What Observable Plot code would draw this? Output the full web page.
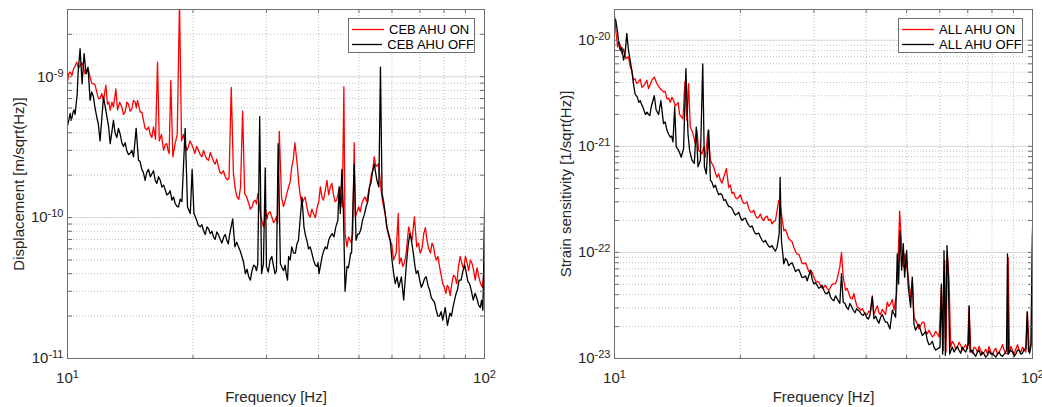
<!DOCTYPE html>
<html>
<head>
<meta charset="utf-8">
<script src="https://cdn.jsdelivr.net/npm/d3@7"></script>
<script src="https://cdn.jsdelivr.net/npm/@observablehq/plot@0.6"></script>
<style>
  body { margin: 0; background: #fff; }
  #fig { position: relative; width: 1042px; height: 407px; font-family: "Liberation Sans", Arial, Helvetica, sans-serif; }
  .panel { position: absolute; top: 0; }
  .legend { position: absolute; top: 18px; height: 35px; box-sizing: border-box; border: 1px solid #6e6e6e; background: #fff;
            padding-top: 3px; font-size: 13px; color: #000; }
  .legend .row { display: flex; align-items: center; height: 15px; white-space: nowrap; }
  .legend svg { display: block; margin: 0 5px 0 3px; }
</style>
</head>
<body>
<div id="fig"></div>
<script>
// Frequency axis ticks (Hz)
const freqMajor = [10, 100];
const freqMinor = [20, 30, 40, 50, 60, 70, 80, 90];

// Displacement axis ticks (m/sqrt(Hz))
const dispMajor = [1e-11, 1e-10, 1e-9];
const dispMinor = [2e-11, 3e-11, 4e-11, 5e-11, 6e-11, 7e-11, 8e-11, 9e-11,
                   2e-10, 3e-10, 4e-10, 5e-10, 6e-10, 7e-10, 8e-10, 9e-10, 2e-9];

// Strain axis ticks (1/sqrt(Hz))
const strainMajor = [1e-23, 1e-22, 1e-21, 1e-20];
const strainMinor = [2e-23, 3e-23, 4e-23, 5e-23, 6e-23, 7e-23, 8e-23, 9e-23,
                     2e-22, 3e-22, 4e-22, 5e-22, 6e-22, 7e-22, 8e-22, 9e-22,
                     2e-21, 3e-21, 4e-21, 5e-21, 6e-21, 7e-21, 8e-21, 9e-21];

const cebNames = ["CEB AHU ON", "CEB AHU OFF"];
const allNames = ["ALL AHU ON", "ALL AHU OFF"];

// CEB displacement spectrum, [frequency Hz, m/sqrt(Hz)], AHU running
const cebOn = [
  [10.0, 9.2e-10], [10.15, 1.08e-9], [10.34, 1.14e-9], [10.53, 1.27e-9], [10.72, 1.2e-9], [10.92, 1.17e-9],
  [11.13, 1.08e-9], [11.33, 9.9e-10], [11.54, 8.9e-10], [11.75, 7.8e-10], [11.97, 7.0e-10], [12.2, 6.8e-10],
  [12.36, 8.7e-10], [12.47, 6.4e-10], [12.66, 5.8e-10], [12.89, 6.1e-10], [13.06, 8.2e-10], [13.18, 5.8e-10],
  [13.5, 6.1e-10], [13.75, 5.6e-10], [14.0, 6.4e-10], [14.26, 5.9e-10], [14.53, 6.6e-10], [14.72, 6.8e-10],
  [14.94, 5.6e-10], [15.21, 4.9e-10], [15.5, 4.2e-10], [15.79, 3.9e-10], [16.08, 4.4e-10], [16.26, 3.6e-10],
  [16.44, 1.27e-9], [16.6, 3.5e-10], [17.0, 3.0e-10], [17.3, 3.35e-10], [17.53, 2.85e-10], [17.69, 9.4e-10],
  [17.89, 2.7e-10], [18.12, 3.35e-10], [18.33, 3.9e-10], [18.56, 3.4e-9], [18.77, 3.5e-10], [19.15, 3.35e-10],
  [19.5, 3.2e-10], [19.86, 3.3e-10], [20.2, 2.85e-10], [20.6, 3.0e-10], [21.0, 2.7e-10], [21.4, 2.75e-10],
  [21.8, 2.55e-10], [22.2, 2.7e-10], [22.6, 2.4e-10], [23.0, 2.3e-10], [23.4, 2.05e-10], [23.9, 1.95e-10],
  [24.4, 1.9e-10], [24.7, 8.4e-10], [25.0, 2.05e-10], [25.5, 1.4e-10], [26.0, 1.65e-10], [26.3, 5.7e-10],
  [26.6, 1.48e-10], [27.2, 1.26e-10], [27.7, 1.19e-10], [28.2, 1.33e-10], [28.6, 1.48e-10], [29.0, 1.07e-10],
  [29.5, 8.6e-11], [29.9, 1.13e-10], [30.3, 1.07e-10], [30.9, 1.01e-10], [31.5, 9.6e-11], [31.9, 9.1e-11],
  [32.2, 4.1e-10], [32.6, 1.4e-10], [33.3, 1.33e-10], [33.9, 1.65e-10], [34.5, 2.3e-10], [35.1, 3.4e-10],
  [35.6, 2.3e-10], [36.1, 1.48e-10], [36.8, 1.33e-10], [37.5, 1.19e-10], [38.2, 1.01e-10], [38.9, 1.07e-10],
  [39.7, 1.19e-10], [40.4, 1.65e-10], [41.1, 1.33e-10], [41.9, 1.84e-10], [42.7, 1.65e-10], [43.4, 1.48e-10],
  [44.2, 1.33e-10], [45.0, 1.65e-10], [45.6, 1.19e-10], [46.0, 8.5e-10], [46.3, 7.7e-11], [46.8, 6.2e-11],
  [47.6, 6.9e-11], [48.3, 7.7e-11], [48.7, 3.4e-10], [49.0, 1.01e-10], [49.9, 1.19e-10], [50.8, 1.26e-10],
  [51.7, 1.4e-10], [52.6, 1.48e-10], [53.6, 2.05e-10], [54.4, 2.7e-10], [54.9, 2.3e-10], [55.7, 2.4e-10],
  [56.4, 1.65e-10], [57.3, 1.19e-10], [58.3, 8.6e-11], [59.4, 6.9e-11], [60.5, 5.0e-11], [61.4, 5.6e-11],
  [62.1, 1.07e-10], [62.5, 4.7e-11], [63.7, 4.5e-11], [64.9, 5.6e-11], [65.8, 8.6e-11], [67.0, 6.9e-11],
  [67.9, 1.01e-10], [68.8, 6.2e-11], [70.1, 5.6e-11], [71.5, 7.7e-11], [72.8, 6.9e-11], [74.2, 5.6e-11],
  [75.5, 6.2e-11], [76.6, 5.0e-11], [78.0, 4.5e-11], [79.4, 3.4e-11], [80.8, 2.9e-11], [82.0, 3.2e-11],
  [83.5, 3.4e-11], [85.0, 3.8e-11], [86.6, 4.5e-11], [88.3, 4.7e-11], [90.0, 5.3e-11], [91.6, 4.2e-11],
  [93.4, 4.7e-11], [95.0, 3.6e-11], [96.9, 3.8e-11], [98.8, 3.2e-11], [99.6, 4.0e-11], [100, 1.13e-10]
];
// fine-scale ripple of the same trace
const cebOnFine = [
  [10.07, 1.05e-9], [10.25, 1.02e-9], [10.44, 1.2e-9], [10.62, 1.15e-9], [10.82, 1.26e-9], [11.02, 1.05e-9],
  [11.23, 1.12e-9], [11.43, 9.0e-10], [11.64, 8.8e-10], [11.86, 7.0e-10], [12.08, 7.6e-10], [12.56, 6.6e-10],
  [12.78, 6.6e-10], [13.34, 6.6e-10], [13.62, 5.4e-10], [13.88, 6.6e-10], [14.13, 5.7e-10], [14.4, 6.8e-10],
  [14.62, 6.0e-10], [14.83, 6.2e-10], [15.08, 5.6e-10], [15.35, 4.3e-10], [15.65, 4.4e-10], [15.93, 3.7e-10],
  [16.8, 3.9e-10], [17.15, 3.3e-10], [17.42, 3.0e-10], [18.96, 3.9e-10], [19.33, 3.0e-10], [19.68, 3.5e-10],
  [20.03, 3.1e-10], [20.4, 3.2e-10], [20.8, 2.8e-10], [21.2, 3.0e-10], [21.6, 2.6e-10], [22.0, 2.9e-10],
  [22.4, 2.5e-10], [22.8, 2.6e-10], [23.2, 2.1e-10], [23.65, 2.15e-10], [24.15, 1.85e-10], [25.25, 1.6e-10],
  [25.75, 1.35e-10], [26.9, 1.4e-10], [27.45, 1.15e-10], [27.95, 1.3e-10], [28.4, 1.25e-10], [29.25, 9.5e-11],
  [30.1, 9.8e-11], [30.6, 1.1e-10], [31.2, 9.2e-11], [31.7, 1.02e-10], [32.95, 1.2e-10], [33.6, 1.5e-10],
  [34.2, 1.8e-10], [34.8, 2.6e-10], [35.85, 1.75e-10], [36.45, 1.25e-10], [37.15, 1.4e-10], [37.85, 1.05e-10],
  [38.55, 1.15e-10], [39.3, 1.0e-10], [40.05, 1.3e-10], [40.75, 1.4e-10], [41.5, 1.55e-10], [42.3, 1.45e-10],
  [43.05, 1.75e-10], [43.8, 1.3e-10], [44.6, 1.5e-10], [47.2, 7.3e-11], [47.95, 6.6e-11], [49.45, 1.1e-10],
  [50.35, 1.1e-10], [51.25, 1.35e-10], [52.15, 1.3e-10], [53.1, 1.7e-10], [54.0, 2.2e-10], [56.05, 2.0e-10],
  [56.85, 1.35e-10], [57.8, 1.05e-10], [58.85, 7.5e-11], [59.95, 6.4e-11], [63.1, 5.2e-11], [64.3, 4.8e-11],
  [65.35, 7.0e-11], [69.45, 6.6e-11], [70.8, 6.0e-11], [72.15, 8.5e-11], [73.5, 6.0e-11], [74.85, 6.6e-11],
  [76.05, 5.4e-11], [77.3, 5.3e-11], [78.7, 3.9e-11], [80.1, 3.2e-11], [81.4, 3.3e-11], [82.75, 2.8e-11],
  [84.25, 3.9e-11], [85.8, 3.4e-11], [87.45, 5.3e-11], [89.15, 4.3e-11], [90.8, 4.8e-11], [92.5, 5.0e-11],
  [94.2, 4.2e-11], [95.95, 4.4e-11], [97.85, 3.4e-11]
];

// CEB displacement spectrum, AHU stopped
const cebOff = [
  [10.0, 4.5e-10], [10.15, 5.5e-10], [10.26, 5.2e-10], [10.37, 5.8e-10], [10.49, 6.4e-10], [10.6, 1.05e-9],
  [10.72, 1.58e-9], [10.84, 8.9e-10], [10.96, 1.46e-9], [11.08, 1.05e-9], [11.2, 1.17e-9], [11.33, 6.8e-10],
  [11.54, 7.2e-10], [11.75, 5.2e-10], [11.97, 3.5e-10], [12.2, 7.2e-10], [12.43, 5.2e-10], [12.66, 3.35e-10],
  [12.89, 4.9e-10], [13.13, 3.7e-10], [13.38, 3.9e-10], [13.62, 3.2e-10], [13.87, 3.0e-10], [14.13, 2.85e-10],
  [14.4, 2.7e-10], [14.61, 4.3e-10], [14.8, 2.55e-10], [15.07, 2.2e-10], [15.35, 1.84e-10], [15.64, 2.2e-10],
  [15.94, 2.05e-10], [16.23, 1.84e-10], [16.53, 1.95e-10], [16.84, 1.65e-10], [17.16, 1.57e-10], [17.47, 1.48e-10],
  [17.8, 1.33e-10], [18.12, 1.26e-10], [18.46, 1.19e-10], [18.81, 1.3e-10], [19.15, 4.3e-10], [19.4, 1.19e-10],
  [19.7, 1.07e-10], [19.9, 2.2e-10], [20.1, 1.07e-10], [20.4, 9.6e-11], [20.8, 8.6e-11], [21.2, 8.1e-11],
  [21.6, 8.6e-11], [22.0, 7.7e-11], [22.4, 7.3e-11], [22.8, 7.9e-11], [23.2, 7.1e-11], [23.7, 7.3e-11],
  [24.1, 6.9e-11], [24.5, 7.7e-11], [24.9, 9.8e-11], [25.2, 6.2e-11], [25.7, 6.2e-11], [26.2, 5.3e-11],
  [26.7, 4.0e-11], [27.2, 3.8e-11], [27.7, 4.2e-11], [28.2, 4.5e-11], [28.6, 4.7e-11], [28.9, 5.2e-10],
  [29.2, 4.0e-11], [29.5, 4.7e-11], [29.8, 2.25e-10], [30.0, 4.5e-11], [30.6, 5.0e-11], [31.2, 4.5e-11],
  [31.7, 4.2e-11], [32.0, 3.35e-10], [32.4, 4.7e-11], [33.0, 4.2e-11], [33.5, 3.9e-11], [33.9, 5.3e-11],
  [34.5, 6.2e-11], [35.2, 5.6e-11], [35.8, 6.9e-11], [36.5, 1.4e-10], [36.9, 8.6e-11], [37.5, 6.9e-11],
  [38.2, 6.2e-11], [38.9, 5.0e-11], [39.7, 4.5e-11], [40.1, 4.0e-11], [40.8, 5.3e-11], [41.5, 6.2e-11],
  [42.3, 6.9e-11], [43.1, 7.7e-11], [44.0, 8.6e-11], [44.5, 9.6e-11], [44.8, 1.65e-10], [45.1, 1.07e-10],
  [45.5, 2.2e-10], [45.9, 1.07e-10], [46.3, 3.0e-11], [46.8, 4.5e-11], [47.5, 5.0e-11], [48.0, 5.6e-11],
  [48.7, 2.4e-10], [49.2, 6.9e-11], [50.1, 7.7e-11], [51.0, 9.6e-11], [52.0, 1.19e-10], [53.0, 1.65e-10],
  [53.8, 2.05e-10], [54.4, 2.4e-10], [55.2, 1.84e-10], [55.8, 1.65e-10], [56.3, 1.17e-9], [56.8, 1.48e-10],
  [57.8, 1.07e-10], [58.9, 7.7e-11], [60.0, 5.0e-11], [61.1, 3.4e-11], [62.3, 3.2e-11], [63.2, 3.8e-11],
  [64.0, 2.6e-11], [64.9, 4.5e-11], [66.2, 7.7e-11], [67.5, 5.6e-11], [68.6, 4.0e-11], [69.9, 3.6e-11],
  [71.2, 3.4e-11], [72.5, 3.8e-11], [73.9, 3.05e-11], [75.2, 2.6e-11], [76.6, 2.2e-11], [78.0, 2.0e-11],
  [79.4, 1.87e-11], [80.5, 2.3e-11], [81.5, 1.72e-11], [82.6, 2.1e-11], [84.0, 2.3e-11], [85.5, 2.9e-11],
  [86.9, 3.6e-11], [88.8, 4.2e-11], [90.5, 4.0e-11], [92.1, 3.4e-11], [94.0, 2.6e-11], [95.8, 2.7e-11],
  [97.7, 2.3e-11], [99.1, 2.2e-11], [100, 8.6e-11]
];
const cebOffFine = [
  [10.07, 4.9e-10], [10.2, 4.9e-10], [10.31, 5.6e-10], [10.43, 5.4e-10], [10.55, 7.5e-10], [11.43, 7.8e-10],
  [11.64, 6.0e-10], [11.86, 4.6e-10], [12.55, 4.4e-10], [13.0, 4.0e-10], [13.25, 4.3e-10], [13.5, 3.4e-10],
  [13.75, 3.4e-10], [14.0, 2.8e-10], [14.27, 3.0e-10], [14.93, 2.5e-10], [15.2, 2.1e-10], [15.5, 2.1e-10],
  [15.8, 1.95e-10], [16.08, 2.15e-10], [16.38, 1.75e-10], [16.68, 1.85e-10], [17.0, 1.7e-10], [17.3, 1.45e-10],
  [17.63, 1.55e-10], [17.96, 1.4e-10], [18.3, 1.2e-10], [18.63, 1.35e-10], [20.25, 1.02e-10], [20.6, 8.8e-11],
  [21.0, 8.9e-11], [21.4, 7.6e-11], [21.8, 8.3e-11], [22.2, 8.0e-11], [22.6, 7.0e-11], [23.0, 7.6e-11],
  [23.45, 6.6e-11], [23.9, 7.6e-11], [24.3, 6.5e-11], [25.45, 6.7e-11], [25.95, 5.8e-11], [26.45, 4.8e-11],
  [26.95, 4.3e-11], [27.45, 3.6e-11], [27.95, 4.6e-11], [28.4, 4.2e-11], [30.3, 4.1e-11], [30.9, 5.3e-11],
  [31.45, 4.0e-11], [32.7, 4.4e-11], [33.25, 4.6e-11], [33.7, 3.6e-11], [34.2, 5.0e-11], [34.85, 5.6e-11],
  [35.5, 6.5e-11], [37.2, 7.5e-11], [37.85, 6.0e-11], [38.55, 5.6e-11], [39.3, 4.6e-11], [39.9, 4.8e-11],
  [40.45, 4.6e-11], [41.15, 5.8e-11], [41.9, 6.0e-11], [42.7, 7.4e-11], [43.55, 7.3e-11], [47.15, 4.4e-11],
  [47.75, 5.6e-11], [49.65, 7.6e-11], [50.55, 8.3e-11], [51.5, 1.05e-10], [52.5, 1.3e-10], [53.4, 1.75e-10],
  [57.3, 1.3e-10], [58.35, 8.5e-11], [59.45, 6.8e-11], [60.55, 4.0e-11], [61.7, 3.8e-11], [65.55, 6.2e-11],
  [66.85, 6.8e-11], [68.05, 4.6e-11], [69.25, 4.2e-11], [70.55, 3.2e-11], [71.85, 3.7e-11], [73.2, 3.3e-11],
  [74.55, 2.7e-11], [75.9, 2.5e-11], [77.3, 2.0e-11], [78.7, 2.15e-11], [83.3, 2.0e-11], [84.75, 2.6e-11],
  [86.2, 3.1e-11], [87.85, 3.6e-11], [89.65, 4.6e-11], [91.3, 3.5e-11], [93.05, 3.0e-11], [94.9, 2.9e-11],
  [96.75, 2.4e-11], [98.4, 2.6e-11]
];

// Strain sensitivity, [frequency Hz, 1/sqrt(Hz)], all AHUs running
const allOn = [
  [10.0, 1.72e-20], [10.09, 1.16e-20], [10.18, 8.6e-21], [10.32, 9.0e-21], [10.41, 7.5e-21], [10.51, 8.3e-21],
  [10.66, 6.7e-21], [10.8, 7.0e-21], [10.9, 5.6e-21], [11.0, 5.2e-21], [11.1, 4.2e-21], [11.2, 4.35e-21],
  [11.42, 4.05e-21], [11.63, 3.6e-21], [11.84, 3.9e-21], [12.06, 3.5e-21], [12.29, 4.2e-21], [12.45, 4.5e-21],
  [12.63, 3.9e-21], [12.86, 3.5e-21], [13.1, 3.26e-21], [13.35, 2.8e-21], [13.6, 2.6e-21], [13.85, 2.7e-21],
  [14.1, 2.5e-21], [14.31, 2.0e-21], [14.58, 1.82e-21], [14.74, 4.05e-21], [14.9, 1.76e-21], [15.04, 3.9e-21],
  [15.18, 1.52e-21], [15.41, 1.32e-21], [15.61, 1.06e-21], [15.75, 1.42e-21], [15.9, 9.2e-22], [16.2, 8.5e-22],
  [16.35, 9.9e-22], [16.5, 7.9e-22], [16.74, 1.42e-21], [16.96, 7.4e-22], [17.27, 6.4e-22], [17.59, 5.1e-22],
  [17.92, 4.8e-22], [18.25, 5.1e-22], [18.52, 6.15e-22], [18.76, 4.1e-22], [19.1, 3.6e-22], [19.46, 3.3e-22],
  [19.82, 3.3e-22], [20.19, 3.1e-22], [20.56, 2.9e-22], [20.95, 2.6e-22], [21.34, 2.4e-22], [21.74, 2.23e-22],
  [22.13, 2.15e-22], [22.54, 2.08e-22], [22.96, 2.15e-22], [23.39, 2.0e-22], [23.82, 1.86e-22], [24.27, 2.0e-22],
  [24.72, 3.1e-22], [24.95, 2.7e-22], [25.41, 1.6e-22], [25.88, 1.5e-22], [26.36, 1.3e-22], [26.85, 1.12e-22],
  [27.35, 9.7e-23], [27.86, 8.7e-23], [28.38, 7.8e-23], [28.9, 7.3e-23], [29.44, 6.8e-23], [29.98, 5.85e-23],
  [30.54, 5.25e-23], [31.1, 4.9e-23], [31.68, 4.7e-23], [32.27, 4.55e-23], [32.87, 4.7e-23], [33.48, 5.05e-23],
  [34.1, 5.65e-23], [34.6, 7.3e-23], [34.92, 1.0e-22], [35.25, 5.85e-23], [35.7, 4.4e-23], [36.37, 4.1e-23],
  [37.05, 3.65e-23], [37.39, 4.1e-23], [38.08, 3.05e-23], [38.79, 2.85e-23], [39.51, 2.75e-23], [40.24, 2.6e-23],
  [40.99, 2.75e-23], [41.37, 3.9e-23], [41.75, 2.6e-23], [42.53, 3.15e-23], [43.32, 2.6e-23], [44.12, 2.75e-23],
  [44.94, 3.4e-23], [45.77, 3.3e-23], [46.62, 2.85e-23], [47.31, 4.1e-23], [47.75, 9.7e-23], [48.1, 2.45e-22],
  [48.54, 1.3e-22], [49.08, 7.3e-23], [49.53, 9.7e-23], [50.17, 6.8e-23], [51.1, 3.8e-23], [51.58, 5.4e-23],
  [52.05, 2.45e-23], [53.02, 2.12e-23], [54.0, 2.05e-23], [55.0, 2.2e-23], [56.03, 1.71e-23], [57.07, 1.71e-23],
  [58.13, 1.65e-23], [59.2, 1.71e-23], [60.53, 4.7e-23], [61.2, 1.19e-23], [61.65, 8.4e-23], [62.1, 1.15e-23],
  [62.56, 9.7e-23], [63.14, 5.4e-23], [63.72, 1.28e-23], [64.91, 1.37e-23], [66.12, 1.28e-23], [67.35, 1.33e-23],
  [68.6, 1.28e-23], [69.88, 1.23e-23], [70.52, 3.05e-23], [71.17, 1.19e-23], [72.49, 1.28e-23], [73.84, 1.15e-23],
  [75.21, 1.19e-23], [76.61, 1.15e-23], [78.03, 1.1e-23], [79.48, 1.15e-23], [80.94, 1.19e-23], [82.45, 1.1e-23],
  [83.98, 1.23e-23], [85.54, 1.19e-23], [87.13, 1.1e-23], [87.45, 9.0e-23], [88.1, 1.15e-23], [89.57, 1.19e-23],
  [91.23, 1.23e-23], [92.92, 1.19e-23], [94.63, 1.28e-23], [96.4, 1.15e-23], [97.27, 2.75e-23], [98.17, 1.19e-23],
  [99.45, 1.37e-23], [100, 1.73e-22]
];
const allOnFine = [
  [10.25, 9.6e-21], [10.58, 7.4e-21], [11.31, 3.9e-21], [11.52, 4.3e-21], [11.73, 3.7e-21], [11.95, 4.2e-21],
  [12.75, 3.7e-21], [12.98, 3.4e-21], [13.22, 3.3e-21], [13.48, 2.85e-21], [13.72, 2.9e-21], [13.97, 2.4e-21],
  [14.2, 2.6e-21], [17.1, 6.9e-22], [17.43, 5.6e-22], [17.75, 5.5e-22], [18.08, 4.5e-22], [18.93, 4.3e-22],
  [19.28, 3.7e-22], [19.64, 3.2e-22], [20.0, 3.5e-22], [20.37, 2.9e-22], [20.75, 3.0e-22], [21.15, 2.4e-22],
  [21.54, 2.5e-22], [21.94, 2.1e-22], [22.34, 2.3e-22], [22.75, 2.0e-22], [23.17, 2.2e-22], [23.6, 2.05e-22],
  [24.05, 1.95e-22], [25.65, 1.65e-22], [26.1, 1.35e-22], [26.6, 1.26e-22], [27.1, 1.02e-22], [27.6, 9.6e-23],
  [28.1, 7.9e-23], [28.65, 8.0e-23], [29.15, 6.6e-23], [29.7, 6.5e-23], [30.25, 5.4e-23], [30.8, 5.3e-23],
  [31.4, 4.6e-23], [31.97, 4.9e-23], [32.57, 4.4e-23], [33.17, 5.0e-23], [33.8, 5.1e-23], [36.0, 4.6e-23],
  [36.7, 3.7e-23], [37.7, 3.5e-23], [38.45, 3.0e-23], [39.15, 2.95e-23], [39.9, 2.6e-23], [40.6, 2.8e-23],
  [42.9, 2.7e-23], [43.7, 2.9e-23], [44.5, 2.6e-23], [45.35, 3.1e-23], [46.2, 3.6e-23], [52.5, 2.3e-23],
  [53.5, 1.9e-23], [54.5, 2.2e-23], [55.5, 1.8e-23], [56.55, 1.85e-23], [57.6, 1.6e-23], [58.65, 1.8e-23],
  [59.8, 1.6e-23], [64.3, 1.45e-23], [65.5, 1.22e-23], [66.7, 1.42e-23], [68.0, 1.2e-23], [69.2, 1.35e-23],
  [71.8, 1.12e-23], [73.1, 1.25e-23], [74.5, 1.3e-23], [75.9, 1.1e-23], [77.3, 1.22e-23], [78.7, 1.3e-23],
  [80.2, 1.08e-23], [81.7, 1.25e-23], [83.2, 1.15e-23], [84.8, 1.35e-23], [86.3, 1.12e-23], [88.8, 1.3e-23],
  [90.4, 1.1e-23], [92.1, 1.35e-23], [93.8, 1.15e-23], [95.5, 1.2e-23], [98.8, 1.3e-23]
];

// Strain sensitivity, all AHUs stopped
const allOff = [
  [10.0, 1.6e-20], [10.07, 1.55e-20], [10.17, 1.2e-20], [10.24, 9.3e-21], [10.32, 8.05e-21], [10.41, 8.6e-21],
  [10.51, 6.5e-21], [10.6, 7.5e-21], [10.7, 1.16e-20], [10.8, 8.05e-21], [10.9, 6.5e-21], [11.0, 5.2e-21],
  [11.1, 3.9e-21], [11.2, 3.1e-21], [11.35, 2.9e-21], [11.52, 2.7e-21], [11.69, 2.35e-21], [11.86, 2.0e-21],
  [12.06, 2.0e-21], [12.24, 2.35e-21], [12.45, 3.0e-21], [12.58, 2.2e-21], [12.75, 2.0e-21], [12.91, 2.7e-21],
  [13.1, 1.64e-21], [13.35, 1.42e-21], [13.6, 1.22e-21], [13.8, 1.1e-21], [13.93, 2.35e-21], [14.05, 9.9e-22],
  [14.23, 9.2e-22], [14.44, 7.9e-22], [14.63, 9.5e-22], [14.82, 5.4e-21], [14.99, 1.32e-21], [15.12, 9.2e-22],
  [15.32, 7.4e-22], [15.52, 6.9e-22], [15.69, 1.52e-21], [15.84, 6.4e-22], [16.05, 7.4e-22], [16.26, 6.0e-21],
  [16.41, 6.4e-22], [16.58, 5.5e-22], [16.8, 1.42e-21], [16.96, 4.8e-22], [17.27, 4.1e-22], [17.59, 3.85e-22],
  [17.92, 3.6e-22], [18.25, 3.1e-22], [18.59, 2.9e-22], [18.93, 2.7e-22], [19.28, 2.4e-22], [19.64, 2.3e-22],
  [20.0, 2.15e-22], [20.37, 2.08e-22], [20.75, 1.93e-22], [21.14, 1.73e-22], [21.54, 1.6e-22], [21.94, 1.5e-22],
  [22.34, 1.4e-22], [22.75, 1.25e-22], [23.17, 1.21e-22], [23.6, 1.12e-22], [24.04, 1.08e-22], [24.49, 1.12e-22],
  [24.77, 1.5e-22], [24.9, 5.1e-22], [25.08, 1.3e-22], [25.41, 7.8e-23], [25.88, 8.4e-23], [26.36, 7.8e-23],
  [26.85, 7.3e-23], [27.35, 6.8e-23], [27.86, 6.3e-23], [28.38, 5.85e-23], [28.9, 5.4e-23], [29.44, 6.8e-23],
  [29.98, 5.05e-23], [30.54, 4.9e-23], [31.1, 4.7e-23], [31.68, 4.4e-23], [32.27, 4.1e-23], [32.87, 3.8e-23],
  [33.48, 3.5e-23], [34.1, 3.65e-23], [34.6, 3.3e-23], [34.92, 6.3e-23], [35.25, 3.4e-23], [35.9, 3.05e-23],
  [36.57, 3.3e-23], [37.25, 2.85e-23], [37.94, 2.95e-23], [38.65, 2.75e-23], [39.36, 2.55e-23], [40.09, 2.45e-23],
  [40.83, 2.55e-23], [41.37, 3.8e-23], [41.75, 2.37e-23], [42.53, 2.3e-23], [43.32, 2.45e-23], [44.12, 2.37e-23],
  [44.94, 2.2e-23], [45.61, 1.9e-23], [46.19, 2.85e-23], [47.05, 2.45e-23], [47.48, 9.7e-23], [47.83, 5.05e-23],
  [48.19, 1.6e-22], [48.63, 6.8e-23], [49.08, 1.21e-22], [49.44, 5.85e-23], [49.99, 1.04e-22], [50.45, 4.7e-23],
  [51.1, 3.05e-23], [51.58, 5.85e-23], [52.05, 2.12e-23], [53.02, 2.0e-23], [54.0, 1.84e-23], [55.0, 1.71e-23],
  [56.03, 1.48e-23], [57.07, 1.37e-23], [58.13, 1.28e-23], [59.2, 1.23e-23], [60.08, 1.28e-23], [60.53, 5.05e-23],
  [60.97, 1.1e-23], [61.42, 1.04e-22], [61.88, 1.07e-23], [62.45, 1.16e-22], [62.91, 5.85e-23], [63.37, 1.1e-23],
  [64.31, 1.28e-23], [65.51, 1.23e-23], [66.73, 1.19e-23], [67.97, 1.28e-23], [69.24, 1.15e-23], [70.26, 1.37e-23],
  [70.52, 3.15e-23], [70.91, 1.15e-23], [72.49, 1.1e-23], [73.84, 1.15e-23], [75.21, 1.07e-23], [76.61, 1.1e-23],
  [78.03, 1.07e-23], [79.48, 1.1e-23], [80.94, 1.07e-23], [82.45, 1.1e-23], [83.98, 1.07e-23], [85.54, 1.1e-23],
  [86.65, 1.19e-23], [87.13, 9.7e-23], [87.61, 1.1e-23], [89.57, 1.15e-23], [91.23, 1.1e-23], [92.92, 1.19e-23],
  [94.63, 1.12e-23], [96.4, 1.23e-23], [97.1, 2.75e-23], [97.81, 1.19e-23], [99.08, 1.28e-23], [100, 1.5e-22]
];
const allOffFine = [
  [11.43, 2.6e-21], [11.6, 2.5e-21], [11.78, 2.15e-21], [11.96, 2.1e-21], [12.15, 1.95e-21], [13.22, 1.7e-21],
  [13.48, 1.3e-21], [13.7, 1.25e-21], [14.33, 8.6e-22], [17.1, 4.6e-22], [17.43, 4.3e-22], [17.75, 3.5e-22],
  [18.08, 3.5e-22], [18.42, 3.15e-22], [18.76, 2.7e-22], [19.1, 2.6e-22], [19.46, 2.25e-22], [19.82, 2.4e-22],
  [20.18, 2.0e-22], [20.56, 2.1e-22], [20.95, 1.8e-22], [21.34, 1.78e-22], [21.74, 1.5e-22], [22.14, 1.52e-22],
  [22.55, 1.3e-22], [22.96, 1.3e-22], [23.39, 1.14e-22], [23.82, 1.16e-22], [24.27, 1.03e-22], [25.65, 8.8e-23],
  [26.1, 7.5e-23], [26.6, 8.0e-23], [27.1, 6.6e-23], [27.6, 6.9e-23], [28.1, 5.8e-23], [28.65, 6.0e-23],
  [29.7, 5.6e-23], [30.25, 5.2e-23], [30.8, 4.6e-23], [31.4, 4.9e-23], [31.97, 4.1e-23], [32.57, 4.3e-23],
  [33.17, 3.6e-23], [33.8, 3.9e-23], [35.6, 3.3e-23], [36.25, 2.9e-23], [36.9, 3.1e-23], [37.6, 2.7e-23],
  [38.3, 2.85e-23], [39.0, 2.6e-23], [39.7, 2.7e-23], [40.45, 2.35e-23], [42.15, 2.5e-23], [42.9, 2.15e-23],
  [43.7, 2.6e-23], [44.5, 2.2e-23], [52.5, 1.85e-23], [53.5, 2.1e-23], [54.5, 1.65e-23], [55.5, 1.8e-23],
  [56.55, 1.35e-23], [57.6, 1.45e-23], [58.65, 1.2e-23], [63.85, 1.2e-23], [64.9, 1.15e-23], [66.1, 1.3e-23],
  [67.35, 1.12e-23], [68.6, 1.2e-23], [71.7, 1.2e-23], [73.15, 1.05e-23], [74.5, 1.2e-23], [75.9, 1.15e-23],
  [77.3, 1.03e-23], [78.7, 1.18e-23], [80.2, 1.12e-23], [81.7, 1.03e-23], [83.2, 1.15e-23], [84.75, 1.05e-23],
  [88.6, 1.2e-23], [90.4, 1.05e-23], [92.1, 1.2e-23], [93.8, 1.1e-23], [95.5, 1.22e-23], [98.4, 1.12e-23]
];

const FONT = '"Liberation Sans", Arial, Helvetica, sans-serif';
const FRAME = "#6e6e6e";
const INK = "#262626";
const ON_COLOR = "#ff0000";
const OFF_COLOR = "#000000";

// merge a trace with its fine-scale samples, ordered by frequency
const trace = (coarse, fine) => d3.sort(coarse.concat(fine), d => d[0]);

// power-of-ten tick text, e.g. "10^-9"; the exponent becomes a superscript below
const powerLabel = d => `10^${Math.round(Math.log10(d))}`;

function superscriptTicks(svg) {
  const ns = "http://www.w3.org/2000/svg";
  svg.querySelectorAll('g[aria-label$="tick label"] text').forEach(t => {
    const s = t.textContent;
    if (!s.includes("^")) return;
    const [base, exp] = s.split("^");
    t.textContent = "";
    const a = document.createElementNS(ns, "tspan");
    a.textContent = base;
    const b = document.createElementNS(ns, "tspan");
    b.textContent = exp;
    b.setAttribute("dy", "-0.45em");
    b.setAttribute("font-size", "11px");
    t.append(a, b);
  });
}

function panel({on, off, yDomain, yMajor, yMinor, yLabel, width, marginLeft, marginRight}) {
  const inward = {stroke: FRAME, fill: "none", label: null, tickSize: 4};
  const svg = Plot.plot({
    width, height: 407,
    marginTop: 9, marginBottom: 49, marginLeft, marginRight,
    style: {fontFamily: FONT, fontSize: "15px", color: INK, background: "white", overflow: "visible"},
    x: {type: "log", domain: [10, 100]},
    y: {type: "log", domain: yDomain},
    marks: [
      Plot.gridX(freqMinor, {stroke: "#8c8c8c", strokeOpacity: 0.55, strokeDasharray: "1,2"}),
      Plot.gridY(yMinor, {stroke: "#8c8c8c", strokeOpacity: 0.55, strokeDasharray: "1,2"}),
      Plot.gridY(yMajor, {stroke: "#d6d6d6", strokeOpacity: 1}),
      Plot.line(on, {x: d => d[0], y: d => d[1], stroke: ON_COLOR, strokeWidth: 1.3, clip: true}),
      Plot.line(off, {x: d => d[0], y: d => d[1], stroke: OFF_COLOR, strokeWidth: 1.3, clip: true}),
      Plot.frame({stroke: FRAME}),
      Plot.axisX(freqMinor, {anchor: "top", frameAnchor: "bottom", ...inward}),
      Plot.axisX(freqMinor, {anchor: "bottom", frameAnchor: "top", ...inward}),
      Plot.axisY(yMinor.concat(yMajor), {anchor: "right", frameAnchor: "left", ...inward}),
      Plot.axisY(yMinor.concat(yMajor), {anchor: "left", frameAnchor: "right", ...inward}),
      Plot.axisX(freqMajor, {tickSize: 0, tickPadding: 14, tickFormat: powerLabel, label: null, fontSize: 15}),
      Plot.axisY(yMajor, {tickSize: 0, tickPadding: 4, tickFormat: powerLabel, label: null, fontSize: 15}),
      Plot.text(["Frequency [Hz]"], {text: d => d, frameAnchor: "bottom", textAnchor: "middle", lineAnchor: "middle", dy: 39, fontSize: 15}),
      Plot.text([yLabel], {text: d => d, frameAnchor: "left", textAnchor: "middle", lineAnchor: "middle", dx: -48, rotate: -90, fontSize: 15})
    ]
  });
  superscriptTicks(svg);
  return svg;
}

function legend(names, left, width) {
  const box = document.createElement("div");
  box.className = "legend";
  box.style.left = left + "px";
  box.style.width = width + "px";
  [[names[0], ON_COLOR], [names[1], OFF_COLOR]].forEach(([name, color]) => {
    const row = document.createElement("div");
    row.className = "row";
    const sw = d3.create("svg").attr("width", 32).attr("height", 15);
    sw.append("line").attr("x1", 0).attr("x2", 32).attr("y1", 7.5).attr("y2", 7.5)
      .attr("stroke", color).attr("stroke-width", 1.3);
    const label = document.createElement("span");
    label.textContent = name;
    row.append(sw.node(), label);
    box.append(row);
  });
  return box;
}

const fig = document.getElementById("fig");

const left = document.createElement("div");
left.className = "panel";
left.style.left = "0px";
left.append(panel({
  on: trace(cebOn, cebOnFine), off: trace(cebOff, cebOffFine),
  yDomain: [1e-11, 3e-9], yMajor: dispMajor, yMinor: dispMinor,
  yLabel: "Displacement [m/sqrt(Hz)]",
  width: 520, marginLeft: 67, marginRight: 36
}));

const right = document.createElement("div");
right.className = "panel";
right.style.left = "520px";
right.append(panel({
  on: trace(allOn, allOnFine), off: trace(allOff, allOffFine),
  yDomain: [1e-23, 1.95e-20], yMajor: strainMajor, yMinor: strainMinor,
  yLabel: "Strain sensitivity [1/sqrt(Hz)]",
  width: 522, marginLeft: 94, marginRight: 10
}));

fig.append(left, right, legend(cebNames, 348, 127), legend(allNames, 898, 125));
</script>
</body>
</html>
